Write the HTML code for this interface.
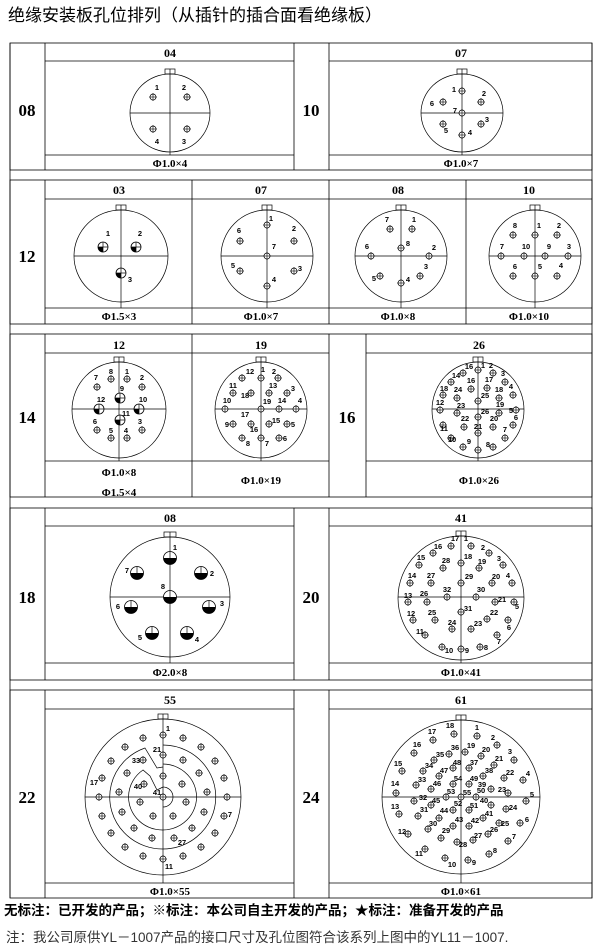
<!DOCTYPE html>
<html><head><meta charset="utf-8">
<style>
html,body{margin:0;padding:0;background:#fff;}
svg{display:block;}
.l{font-family:"Liberation Sans",sans-serif;font-weight:bold;font-size:7.5px;text-anchor:middle;fill:#000;}
.h{font-family:"Liberation Serif",serif;font-weight:bold;font-size:12px;text-anchor:middle;}
.c{font-family:"Liberation Serif",serif;font-weight:bold;font-size:11px;text-anchor:middle;}
.s{font-family:"Liberation Serif",serif;font-weight:bold;font-size:17px;text-anchor:middle;}
</style></head><body>
<svg width="600" height="948" viewBox="0 0 600 948" xmlns="http://www.w3.org/2000/svg">
<defs>
<g id="h"><circle r="3" fill="#fff" stroke="#000" stroke-width="0.7"/><line x1="-4" y1="0" x2="4" y2="0" stroke="#000" stroke-width="0.6"/><line x1="0" y1="-4" x2="0" y2="4" stroke="#000" stroke-width="0.6"/></g>
<g id="q"><circle r="5" fill="#fff" stroke="#000" stroke-width="0.8"/><path d="M0,0 L-5,0 A5,5 0 0 0 0,5 Z" fill="#000"/><line x1="-5" y1="0" x2="5" y2="0" stroke="#000" stroke-width="0.7"/><line x1="0" y1="-5" x2="0" y2="5" stroke="#000" stroke-width="0.7"/></g>
<g id="b"><circle r="6.5" fill="#fff" stroke="#000" stroke-width="0.8"/><path d="M-6.5,0 A6.5,6.5 0 0 0 6.5,0 Z" fill="#000"/><line x1="0" y1="-6.5" x2="0" y2="0" stroke="#000" stroke-width="0.7"/></g>
</defs>

<text x="8" y="21" font-family="Liberation Sans,'Noto Sans CJK SC',sans-serif" font-size="17">绝缘安装板孔位排列（从插针的插合面看绝缘板）</text>

<g stroke="#000" stroke-width="0.8" fill="none">
<line x1="10" y1="43" x2="10" y2="898"/><line x1="592" y1="43" x2="592" y2="898"/>
<rect x="10" y="43" width="582" height="127"/>
<line x1="45" y1="43" x2="45" y2="170"/><line x1="294" y1="43" x2="294" y2="170"/><line x1="329" y1="43" x2="329" y2="170"/>
<line x1="45" y1="61" x2="294" y2="61"/><line x1="329" y1="61" x2="592" y2="61"/>
<line x1="45" y1="155" x2="294" y2="155"/><line x1="329" y1="155" x2="592" y2="155"/>
<rect x="10" y="180" width="582" height="144"/>
<line x1="45" y1="180" x2="45" y2="324"/><line x1="192" y1="180" x2="192" y2="324"/><line x1="329" y1="180" x2="329" y2="324"/><line x1="466" y1="180" x2="466" y2="324"/>
<line x1="45" y1="199" x2="592" y2="199"/><line x1="45" y1="308" x2="592" y2="308"/>
<rect x="10" y="334" width="582" height="163"/>
<line x1="45" y1="334" x2="45" y2="497"/><line x1="192" y1="334" x2="192" y2="497"/><line x1="329" y1="334" x2="329" y2="497"/><line x1="366" y1="334" x2="366" y2="497"/>
<line x1="45" y1="353" x2="329" y2="353"/><line x1="366" y1="353" x2="592" y2="353"/>
<line x1="45" y1="461" x2="329" y2="461"/><line x1="366" y1="461" x2="592" y2="461"/>
<rect x="10" y="508" width="582" height="172"/>
<line x1="45" y1="508" x2="45" y2="680"/><line x1="294" y1="508" x2="294" y2="680"/><line x1="329" y1="508" x2="329" y2="680"/>
<line x1="45" y1="526" x2="294" y2="526"/><line x1="329" y1="526" x2="592" y2="526"/>
<line x1="45" y1="663" x2="294" y2="663"/><line x1="329" y1="663" x2="592" y2="663"/>
<rect x="10" y="690" width="582" height="208"/>
<line x1="45" y1="690" x2="45" y2="898"/><line x1="294" y1="690" x2="294" y2="898"/><line x1="329" y1="690" x2="329" y2="898"/>
<line x1="45" y1="709" x2="294" y2="709"/><line x1="329" y1="709" x2="592" y2="709"/>
<line x1="45" y1="883" x2="294" y2="883"/><line x1="329" y1="883" x2="592" y2="883"/>

<g stroke-width="0.7">
<ellipse cx="170" cy="113" rx="40" ry="39"/><rect x="165" y="69" width="10" height="5"/><line x1="170" y1="69" x2="170" y2="155"/><line x1="130" y1="113" x2="210" y2="113"/>
<ellipse cx="462" cy="113" rx="41" ry="39"/><rect x="457" y="69" width="10" height="5"/><line x1="462" y1="69" x2="462" y2="155"/><line x1="421" y1="113" x2="503" y2="113"/>

<ellipse cx="121" cy="256" rx="47" ry="46"/><rect x="116" y="205" width="10" height="5"/><line x1="121" y1="205" x2="121" y2="308"/><line x1="74" y1="256" x2="168" y2="256"/>
<ellipse cx="267" cy="256" rx="46" ry="46"/><rect x="262" y="205" width="10" height="5"/><line x1="267" y1="205" x2="267" y2="308"/><line x1="221" y1="256" x2="313" y2="256"/>
<ellipse cx="401" cy="256" rx="46" ry="46"/><rect x="396" y="205" width="10" height="5"/><line x1="401" y1="205" x2="401" y2="308"/><line x1="355" y1="256" x2="447" y2="256"/>
<ellipse cx="535" cy="256" rx="46" ry="46"/><rect x="530" y="205" width="10" height="5"/><line x1="535" y1="205" x2="535" y2="308"/><line x1="489" y1="256" x2="581" y2="256"/>

<ellipse cx="119" cy="410" rx="47" ry="48"/><rect x="114" y="357" width="10" height="5"/><line x1="119" y1="357" x2="119" y2="461"/><line x1="72" y1="409" x2="166" y2="409"/>
<ellipse cx="261" cy="410" rx="46" ry="48"/><rect x="256" y="357" width="10" height="5"/><line x1="261" y1="357" x2="261" y2="461"/><line x1="215" y1="409" x2="307" y2="409"/>
<ellipse cx="478" cy="410" rx="46" ry="48"/><rect x="473" y="357" width="10" height="5"/><line x1="478" y1="357" x2="478" y2="461"/><line x1="432" y1="409" x2="524" y2="409"/>

<ellipse cx="170" cy="597" rx="60" ry="60"/><rect x="164" y="532" width="12" height="5"/><line x1="170" y1="532" x2="170" y2="663"/><line x1="110" y1="597" x2="230" y2="597"/>
<ellipse cx="461" cy="598" rx="63" ry="62"/><rect x="456" y="531" width="10" height="5"/><line x1="461" y1="531" x2="461" y2="663"/><line x1="398" y1="597" x2="524" y2="597"/>

<ellipse cx="163" cy="797" rx="78" ry="78"/><rect x="158" y="714" width="10" height="5"/><line x1="163" y1="714" x2="163" y2="883"/><line x1="85" y1="797" x2="241" y2="797"/>
<path d="M163,745 A53,52 0 1 1 145,748 L157,768 L163,767"/>
<path d="M163,764 A34,33 0 1 1 143,770 L150,776 L157,790 L163,787"/>
<path d="M163,787 A10,10 0 0 1 163,807"/>
<ellipse cx="461" cy="797" rx="79" ry="77"/><rect x="456" y="715" width="10" height="5"/><line x1="461" y1="715" x2="461" y2="883"/><line x1="382" y1="797" x2="540" y2="797"/>
</g>
</g>

<text class="s" x="27" y="116">08</text><text class="s" x="311" y="116">10</text>
<text class="s" x="27" y="262">12</text>
<text class="s" x="27" y="423">14</text><text class="s" x="347" y="423">16</text>
<text class="s" x="27" y="603">18</text><text class="s" x="311" y="603">20</text>
<text class="s" x="27" y="803">22</text><text class="s" x="311" y="803">24</text>

<text class="h" x="170" y="57">04</text><text class="h" x="461" y="57">07</text>
<text class="h" x="119" y="194">03</text><text class="h" x="261" y="194">07</text><text class="h" x="398" y="194">08</text><text class="h" x="529" y="194">10</text>
<text class="h" x="119" y="349">12</text><text class="h" x="261" y="349">19</text><text class="h" x="479" y="349">26</text>
<text class="h" x="170" y="522">08</text><text class="h" x="461" y="522">41</text>
<text class="h" x="170" y="704">55</text><text class="h" x="461" y="704">61</text>

<text class="c" x="170" y="167">Φ1.0×4</text><text class="c" x="461" y="167">Φ1.0×7</text>
<text class="c" x="119" y="320">Φ1.5×3</text><text class="c" x="261" y="320">Φ1.0×7</text><text class="c" x="398" y="320">Φ1.0×8</text><text class="c" x="529" y="320">Φ1.0×10</text>
<text class="c" x="119" y="476">Φ1.0×8</text><text class="c" x="119" y="496">Φ1.5×4</text><text class="c" x="261" y="484">Φ1.0×19</text><text class="c" x="479" y="484">Φ1.0×26</text>
<text class="c" x="170" y="676">Φ2.0×8</text><text class="c" x="461" y="676">Φ1.0×41</text>
<text class="c" x="170" y="895">Φ1.0×55</text><text class="c" x="461" y="895">Φ1.0×61</text>

<use href="#h" x="153" y="97"/><use href="#h" x="187" y="97"/><use href="#h" x="153" y="129"/><use href="#h" x="187" y="129"/>
<text class="l" x="157" y="90">1</text><text class="l" x="184" y="90">2</text><text class="l" x="157" y="144">4</text><text class="l" x="184" y="144">3</text>
<use href="#h" x="462" y="91"/><use href="#h" x="481" y="102"/><use href="#h" x="443" y="102"/><use href="#h" x="462" y="113"/><use href="#h" x="481" y="124"/><use href="#h" x="443" y="124"/><use href="#h" x="462" y="135"/>
<text class="l" x="454" y="92">1</text><text class="l" x="484" y="96">2</text><text class="l" x="432" y="106">6</text><text class="l" x="455" y="113">7</text><text class="l" x="487" y="122">3</text><text class="l" x="446" y="133">5</text><text class="l" x="470" y="135">4</text>

<use href="#q" x="103" y="247"/><use href="#q" x="136" y="247"/><use href="#q" x="121" y="273"/>
<text class="l" x="108" y="236">1</text><text class="l" x="140" y="236">2</text><text class="l" x="130" y="282">3</text>
<use href="#h" x="267" y="225"/><use href="#h" x="240" y="241"/><use href="#h" x="294" y="241"/><use href="#h" x="267" y="256"/><use href="#h" x="240" y="271"/><use href="#h" x="294" y="271"/><use href="#h" x="267" y="286"/>
<text class="l" x="271" y="221">1</text><text class="l" x="239" y="233">6</text><text class="l" x="294" y="231">2</text><text class="l" x="274" y="249">7</text><text class="l" x="233" y="268">5</text><text class="l" x="300" y="271">3</text><text class="l" x="274" y="282">4</text>
<use href="#h" x="390" y="229"/><use href="#h" x="412" y="229"/><use href="#h" x="401" y="248"/><use href="#h" x="371" y="256"/><use href="#h" x="429" y="256"/><use href="#h" x="420" y="276"/><use href="#h" x="380" y="276"/><use href="#h" x="401" y="283"/>
<text class="l" x="387" y="222">7</text><text class="l" x="414" y="222">1</text><text class="l" x="408" y="246">8</text><text class="l" x="367" y="249">6</text><text class="l" x="434" y="250">2</text><text class="l" x="426" y="269">3</text><text class="l" x="374" y="281">5</text><text class="l" x="408" y="282">4</text>
<use href="#h" x="513" y="235"/><use href="#h" x="535" y="235"/><use href="#h" x="557" y="235"/><use href="#h" x="501" y="256"/><use href="#h" x="524" y="256"/><use href="#h" x="545" y="256"/><use href="#h" x="568" y="256"/><use href="#h" x="513" y="276"/><use href="#h" x="535" y="276"/><use href="#h" x="557" y="276"/>
<text class="l" x="515" y="228">8</text><text class="l" x="539" y="228">1</text><text class="l" x="559" y="228">2</text><text class="l" x="502" y="249">7</text><text class="l" x="526" y="249">10</text><text class="l" x="549" y="249">9</text><text class="l" x="569" y="249">3</text><text class="l" x="515" y="269">6</text><text class="l" x="540" y="269">5</text><text class="l" x="561" y="268">4</text>

<use href="#h" x="111" y="379"/><use href="#h" x="127" y="379"/><use href="#h" x="97" y="387"/><use href="#h" x="142" y="387"/><use href="#h" x="97" y="430"/><use href="#h" x="142" y="430"/><use href="#h" x="111" y="438"/><use href="#h" x="127" y="438"/>
<use href="#q" x="120" y="398"/><use href="#q" x="99" y="409"/><use href="#q" x="139" y="409"/><use href="#q" x="120" y="420"/>
<text class="l" x="111" y="374">8</text><text class="l" x="127" y="374">1</text><text class="l" x="96" y="380">7</text><text class="l" x="142" y="380">2</text><text class="l" x="122" y="391">9</text><text class="l" x="101" y="402">12</text><text class="l" x="143" y="402">10</text><text class="l" x="126" y="416">11</text><text class="l" x="95" y="424">6</text><text class="l" x="140" y="424">3</text><text class="l" x="111" y="433">5</text><text class="l" x="126" y="433">4</text>
<use href="#h" x="242" y="378"/><use href="#h" x="261" y="378"/><use href="#h" x="278" y="378"/><use href="#h" x="233" y="393"/><use href="#h" x="251" y="393"/><use href="#h" x="269" y="393"/><use href="#h" x="287" y="393"/><use href="#h" x="225" y="409"/><use href="#h" x="261" y="409"/><use href="#h" x="279" y="409"/><use href="#h" x="296" y="409"/><use href="#h" x="233" y="424"/><use href="#h" x="251" y="424"/><use href="#h" x="269" y="424"/><use href="#h" x="287" y="424"/><use href="#h" x="242" y="438"/><use href="#h" x="261" y="438"/><use href="#h" x="279" y="438"/>
<text class="l" x="250" y="374">12</text><text class="l" x="263" y="372">1</text><text class="l" x="274" y="374">2</text><text class="l" x="233" y="388">11</text><text class="l" x="245" y="398">18</text><text class="l" x="273" y="388">13</text><text class="l" x="293" y="391">3</text><text class="l" x="227" y="403">10</text><text class="l" x="267" y="404">19</text><text class="l" x="282" y="403">14</text><text class="l" x="300" y="403">4</text><text class="l" x="227" y="427">9</text><text class="l" x="245" y="417">17</text><text class="l" x="276" y="423">15</text><text class="l" x="293" y="427">5</text><text class="l" x="254" y="432">16</text><text class="l" x="248" y="446">8</text><text class="l" x="267" y="446">7</text><text class="l" x="285" y="441">6</text>
<use href="#h" x="478" y="370"/><use href="#h" x="493" y="373"/><use href="#h" x="505" y="382"/><use href="#h" x="513" y="395"/><use href="#h" x="516" y="410"/><use href="#h" x="513" y="425"/><use href="#h" x="505" y="438"/><use href="#h" x="493" y="447"/><use href="#h" x="478" y="450"/><use href="#h" x="463" y="447"/><use href="#h" x="451" y="438"/><use href="#h" x="443" y="425"/><use href="#h" x="440" y="410"/><use href="#h" x="443" y="395"/><use href="#h" x="451" y="382"/><use href="#h" x="463" y="373"/>
<use href="#h" x="487" y="388"/><use href="#h" x="499" y="398"/><use href="#h" x="499" y="413"/><use href="#h" x="493" y="427"/><use href="#h" x="478" y="433"/><use href="#h" x="464" y="427"/><use href="#h" x="457" y="413"/><use href="#h" x="457" y="398"/><use href="#h" x="471" y="389"/><use href="#h" x="478" y="401"/><use href="#h" x="478" y="417"/>
<text class="l" x="483" y="368">1</text><text class="l" x="491" y="368">2</text><text class="l" x="503" y="376">3</text><text class="l" x="511" y="389">4</text><text class="l" x="511" y="413">5</text><text class="l" x="516" y="420">6</text><text class="l" x="505" y="432">7</text><text class="l" x="488" y="447">8</text><text class="l" x="469" y="444">9</text><text class="l" x="452" y="442">10</text><text class="l" x="444" y="431">11</text><text class="l" x="440" y="405">12</text><text class="l" x="444" y="391">18</text><text class="l" x="456" y="378">14</text><text class="l" x="469" y="369">16</text>
<text class="l" x="489" y="382">17</text><text class="l" x="499" y="392">18</text><text class="l" x="500" y="407">19</text><text class="l" x="494" y="421">20</text><text class="l" x="478" y="429">21</text><text class="l" x="465" y="421">22</text><text class="l" x="461" y="408">23</text><text class="l" x="458" y="392">24</text><text class="l" x="471" y="383">16</text><text class="l" x="485" y="398">25</text><text class="l" x="485" y="414">26</text>

<use href="#b" x="170" y="558"/><use href="#b" x="137" y="573"/><use href="#b" x="201" y="573"/><use href="#b" x="170" y="597"/><use href="#b" x="131" y="607"/><use href="#b" x="209" y="607"/><use href="#b" x="152" y="633"/><use href="#b" x="187" y="633"/>
<text class="l" x="175" y="550">1</text><text class="l" x="127" y="573">7</text><text class="l" x="212" y="576">2</text><text class="l" x="163" y="589">8</text><text class="l" x="118" y="609">6</text><text class="l" x="222" y="606">3</text><text class="l" x="140" y="640">5</text><text class="l" x="197" y="642">4</text>
<g>
<use href="#h" x="451" y="546"/><use href="#h" x="471" y="546"/><use href="#h" x="433" y="553"/><use href="#h" x="489" y="553"/><use href="#h" x="419" y="565"/><use href="#h" x="461" y="563"/><use href="#h" x="443" y="568"/><use href="#h" x="479" y="568"/><use href="#h" x="503" y="565"/><use href="#h" x="410" y="583"/><use href="#h" x="431" y="583"/><use href="#h" x="461" y="583"/><use href="#h" x="492" y="583"/><use href="#h" x="512" y="583"/><use href="#h" x="408" y="602"/><use href="#h" x="427" y="602"/><use href="#h" x="447" y="597"/><use href="#h" x="476" y="597"/><use href="#h" x="495" y="602"/><use href="#h" x="514" y="602"/><use href="#h" x="413" y="620"/><use href="#h" x="435" y="620"/><use href="#h" x="461" y="612"/><use href="#h" x="487" y="619"/><use href="#h" x="452" y="629"/><use href="#h" x="471" y="629"/><use href="#h" x="508" y="620"/><use href="#h" x="425" y="635"/><use href="#h" x="497" y="635"/><use href="#h" x="442" y="647"/><use href="#h" x="461" y="649"/><use href="#h" x="480" y="647"/>
</g>
<text class="l" x="455" y="541">17</text><text class="l" x="466" y="541">1</text><text class="l" x="438" y="549">16</text><text class="l" x="483" y="550">2</text><text class="l" x="421" y="560">15</text><text class="l" x="468" y="559">18</text><text class="l" x="446" y="563">28</text><text class="l" x="482" y="564">19</text><text class="l" x="499" y="561">3</text><text class="l" x="412" y="578">14</text><text class="l" x="431" y="578">27</text><text class="l" x="469" y="579">29</text><text class="l" x="496" y="579">20</text><text class="l" x="508" y="578">4</text><text class="l" x="408" y="598">13</text><text class="l" x="424" y="596">26</text><text class="l" x="447" y="592">32</text><text class="l" x="481" y="592">30</text><text class="l" x="502" y="602">21</text><text class="l" x="517" y="609">5</text><text class="l" x="411" y="616">12</text><text class="l" x="432" y="615">25</text><text class="l" x="468" y="611">31</text><text class="l" x="494" y="615">22</text><text class="l" x="452" y="625">24</text><text class="l" x="478" y="626">23</text><text class="l" x="509" y="630">6</text><text class="l" x="420" y="634">11</text><text class="l" x="499" y="644">7</text><text class="l" x="449" y="653">10</text><text class="l" x="467" y="653">9</text><text class="l" x="486" y="650">8</text>

<use href="#h" x="163" y="735"/><use href="#h" x="183" y="738"/><use href="#h" x="201" y="747"/><use href="#h" x="215" y="761"/><use href="#h" x="224" y="778"/><use href="#h" x="227" y="797"/><use href="#h" x="224" y="816"/><use href="#h" x="215" y="833"/><use href="#h" x="201" y="847"/><use href="#h" x="183" y="856"/><use href="#h" x="163" y="859"/><use href="#h" x="143" y="856"/><use href="#h" x="125" y="847"/><use href="#h" x="111" y="833"/><use href="#h" x="102" y="816"/><use href="#h" x="99" y="797"/><use href="#h" x="102" y="778"/><use href="#h" x="111" y="761"/><use href="#h" x="125" y="747"/><use href="#h" x="143" y="738"/>
<use href="#h" x="163" y="755"/><use href="#h" x="183" y="760"/><use href="#h" x="199" y="773"/><use href="#h" x="207" y="792"/><use href="#h" x="204" y="812"/><use href="#h" x="192" y="828"/><use href="#h" x="174" y="838"/><use href="#h" x="152" y="838"/><use href="#h" x="134" y="828"/><use href="#h" x="122" y="812"/><use href="#h" x="119" y="792"/><use href="#h" x="127" y="773"/><use href="#h" x="143" y="760"/>
<use href="#h" x="163" y="776"/><use href="#h" x="182" y="784"/><use href="#h" x="186" y="802"/><use href="#h" x="173" y="816"/><use href="#h" x="153" y="816"/><use href="#h" x="140" y="802"/><use href="#h" x="144" y="784"/><use href="#h" x="163" y="797"/>
<text class="l" x="168" y="731">1</text><text class="l" x="157" y="752">21</text><text class="l" x="136" y="763">33</text><text class="l" x="94" y="785">17</text><text class="l" x="138" y="789">40</text><text class="l" x="157" y="795">41</text><text class="l" x="230" y="817">7</text><text class="l" x="182" y="845">27</text><text class="l" x="169" y="869">11</text>

<g>
<use href="#h" x="477" y="736"/><use href="#h" x="497" y="745"/><use href="#h" x="514" y="760"/><use href="#h" x="523" y="780"/><use href="#h" x="526" y="801"/><use href="#h" x="520" y="823"/><use href="#h" x="508" y="841"/><use href="#h" x="489" y="854"/><use href="#h" x="468" y="860"/><use href="#h" x="445" y="858"/><use href="#h" x="425" y="849"/><use href="#h" x="408" y="834"/><use href="#h" x="399" y="814"/><use href="#h" x="396" y="793"/><use href="#h" x="402" y="771"/><use href="#h" x="414" y="753"/><use href="#h" x="433" y="740"/><use href="#h" x="454" y="734"/>
<use href="#h" x="465" y="752"/><use href="#h" x="481" y="756"/><use href="#h" x="494" y="765"/><use href="#h" x="504" y="778"/><use href="#h" x="508" y="793"/><use href="#h" x="506" y="809"/><use href="#h" x="499" y="823"/><use href="#h" x="488" y="834"/><use href="#h" x="473" y="840"/><use href="#h" x="457" y="842"/><use href="#h" x="441" y="838"/><use href="#h" x="428" y="829"/><use href="#h" x="418" y="816"/><use href="#h" x="414" y="801"/><use href="#h" x="416" y="785"/><use href="#h" x="423" y="771"/><use href="#h" x="434" y="760"/><use href="#h" x="449" y="754"/>
<use href="#h" x="469" y="768"/><use href="#h" x="483" y="776"/><use href="#h" x="491" y="789"/><use href="#h" x="491" y="805"/><use href="#h" x="483" y="818"/><use href="#h" x="469" y="826"/><use href="#h" x="453" y="826"/><use href="#h" x="439" y="818"/><use href="#h" x="431" y="805"/><use href="#h" x="431" y="789"/><use href="#h" x="439" y="776"/><use href="#h" x="453" y="768"/>
<use href="#h" x="469" y="784"/><use href="#h" x="476" y="797"/><use href="#h" x="469" y="810"/><use href="#h" x="453" y="810"/><use href="#h" x="446" y="797"/><use href="#h" x="453" y="784"/><use href="#h" x="461" y="797"/>
</g>
<g>
<text class="l" x="477" y="730">1</text><text class="l" x="493" y="740">2</text><text class="l" x="510" y="754">3</text><text class="l" x="528" y="776">4</text><text class="l" x="532" y="797">5</text><text class="l" x="527" y="822">6</text><text class="l" x="514" y="839">7</text><text class="l" x="495" y="853">8</text><text class="l" x="474" y="865">9</text><text class="l" x="452" y="867">10</text><text class="l" x="419" y="856">11</text><text class="l" x="402" y="834">12</text><text class="l" x="395" y="809">13</text><text class="l" x="395" y="786">14</text><text class="l" x="398" y="766">15</text><text class="l" x="417" y="747">16</text><text class="l" x="432" y="734">17</text><text class="l" x="450" y="728">18</text>
<text class="l" x="471" y="748">19</text><text class="l" x="486" y="752">20</text><text class="l" x="499" y="761">21</text><text class="l" x="510" y="775">22</text><text class="l" x="502" y="792">23</text><text class="l" x="513" y="810">24</text><text class="l" x="505" y="826">25</text><text class="l" x="494" y="832">26</text><text class="l" x="478" y="838">27</text><text class="l" x="463" y="847">28</text><text class="l" x="446" y="833">29</text><text class="l" x="433" y="826">30</text><text class="l" x="424" y="812">31</text><text class="l" x="423" y="800">32</text><text class="l" x="422" y="782">33</text><text class="l" x="429" y="768">34</text><text class="l" x="440" y="757">35</text><text class="l" x="455" y="750">36</text>
<text class="l" x="474" y="765">37</text><text class="l" x="489" y="773">38</text><text class="l" x="482" y="787">39</text><text class="l" x="484" y="803">40</text><text class="l" x="489" y="816">41</text><text class="l" x="475" y="823">42</text><text class="l" x="459" y="822">43</text><text class="l" x="444" y="813">44</text><text class="l" x="436" y="803">45</text><text class="l" x="437" y="786">46</text><text class="l" x="444" y="773">47</text><text class="l" x="457" y="765">48</text>
<text class="l" x="474" y="781">49</text><text class="l" x="481" y="793">50</text><text class="l" x="474" y="808">51</text><text class="l" x="458" y="806">52</text><text class="l" x="451" y="794">53</text><text class="l" x="458" y="781">54</text><text class="l" x="467" y="795">55</text>
</g>

<text x="4" y="915" font-family="Liberation Sans,'Noto Sans CJK SC',sans-serif" font-size="13.5" font-weight="bold">无标注：已开发的产品；※标注：本公司自主开发的产品；★标注：准备开发的产品</text>
<text x="6" y="942" font-family="Liberation Sans,'Noto Sans CJK SC',sans-serif" font-size="13.5" fill="#333">注：我公司原供YL－1007产品的接口尺寸及孔位图符合该系列上图中的YL11－1007.</text>
</svg>
</body></html>
